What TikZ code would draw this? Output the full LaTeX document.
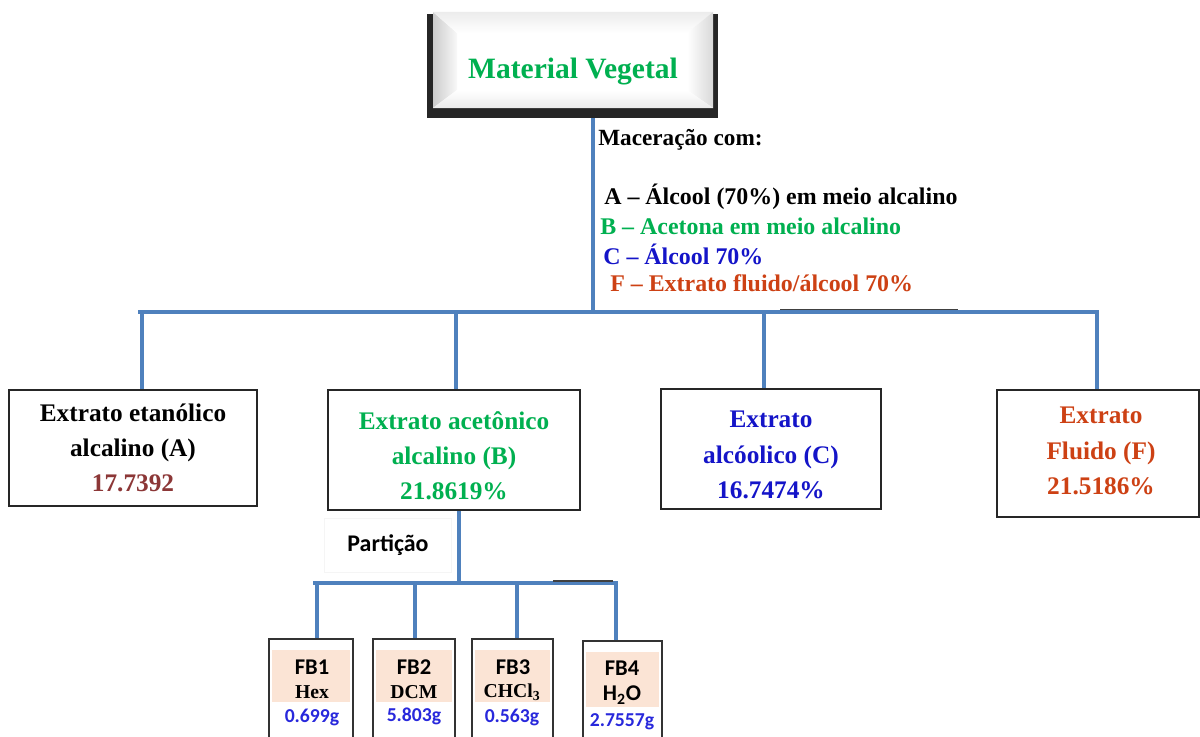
\documentclass[tikz,border=0pt]{standalone}
\usepackage{fontspec}
\setmainfont{Liberation Serif}
\newfontfamily\calfont{Carlito}
\usetikzlibrary{positioning}

\definecolor{linkblue}{RGB}{79,129,189}
\definecolor{vgreen}{RGB}{0,176,80}
\definecolor{cblue}{RGB}{20,20,200}
\definecolor{forange}{RGB}{205,65,20}
\definecolor{adark}{RGB}{140,55,55}
\definecolor{peach}{RGB}{251,228,213}
\definecolor{fbblue}{RGB}{40,40,220}

\tikzset{
  conn/.style={linkblue, line width=3pt},
  extbox/.style={draw=black!85, line width=1.3pt, fill=white, inner sep=0pt},
  exttext/.style={align=center, inner sep=0pt, font=\bfseries\fontsize{18}{25}\selectfont},
  fbbox/.style={draw=black!80, line width=1.3pt, fill=white, anchor=north, inner sep=0pt, minimum height=2.75cm},
  fbhead/.style={font=\calfont\bfseries\fontsize{16}{18}\selectfont},
  fbsolv/.style={font=\bfseries\fontsize{14}{16}\selectfont},
  fbmass/.style={text=fbblue, font=\calfont\bfseries\fontsize{14}{16}\selectfont},
  macline/.style={anchor=west, inner sep=0pt, font=\bfseries\fontsize{17}{20}\selectfont},
}

\begin{document}
\begin{tikzpicture}[x=0.025cm, y=-0.025cm]
	\useasboundingbox (0,0) rectangle (1200,736);
	\clip (0,0) rectangle (1200,736);
	% bevelled top box
	\node[fill=black!85, minimum width=7.275cm, minimum height=2.6cm, inner sep=0pt] (matbox) at (572.5,66) {};
	\fill[white] (433,12) rectangle (713,108);
	\shade[left color=gray!40, right color=gray!5] (433,12) -- (457,33) -- (457,90) -- (433,108) -- cycle;
	\shade[top color=gray!15, bottom color=white] (433,12) -- (713,12) -- (687,33) -- (457,33) -- cycle;
	\shade[left color=white, right color=gray!30] (713,12) -- (713,108) -- (687,90) -- (687,33) -- cycle;
	\shade[top color=white, bottom color=gray!15] (433,108) -- (457,90) -- (687,90) -- (713,108) -- cycle;
	\node[text=vgreen, font=\bfseries\fontsize{21}{24}\selectfont] (mat) at (573,72) {Material Vegetal};

	\node[macline, font=\bfseries\fontsize{16.5}{20}\selectfont] (mac) at (598,140) {Maceração com:};
	\node[macline] (macA) at (604,197) {A – Álcool (70\%) em meio alcalino};
	\node[macline, text=vgreen] (macB) at (600,226) {B – Acetona em meio alcalino};
	\node[macline, text=cblue] (macC) at (603,254) {C – Álcool 70\%};
	\node[macline, text=forange] (macF) at (610,283) {F – Extrato fluido/álcool 70\%};

	% extracts
	\node[extbox, minimum width=6.2cm, minimum height=2.9cm] (extA) at (133,448) {};
	\node[extbox, minimum width=6.3cm, minimum height=3cm] (extB) at (454,450) {};
	\node[extbox, minimum width=5.5cm, minimum height=3cm] (extC) at (771,449) {};
	\node[extbox, minimum width=5.05cm, minimum height=3.175cm] (extF) at (1098,453.5) {};
	\node[exttext] (extAt) at (133,448) {Extrato etanólico\\alcalino (A)\\{\color{adark}17.7392}};
	\node[exttext, text=vgreen] (extBt) at (454,456) {Extrato acetônico\\alcalino (B)\\21.8619\%};
	\node[exttext, text=cblue] (extCt) at (771,455) {Extrato\\alcóolico (C)\\16.7474\%};
	\node[exttext, text=forange] (extFt) at (1101,451) {Extrato\\Fluido (F)\\21.5186\%};

	\coordinate (hub) at (593,312);
	\coordinate (barL) at (138,312);
	\coordinate (barR) at (1099,312);
	\coordinate (tA) at (142,312);
	\coordinate (tB) at (456,312);
	\coordinate (tC) at (764,312);
	\coordinate (tF) at (1097,312);
	\draw[conn] (matbox.south -| hub) -- (hub);
	\draw[conn] (barL) -- (barR);
	\draw[black!75, line width=0.8pt] (780,309.5) -- (958,309.5);
	\draw[conn] (tA) -- (tA |- extA.north);
	\draw[conn] (tB) -- (tB |- extB.north);
	\draw[conn] (tC) -- (tC |- extC.north);
	\draw[conn] (tF) -- (tF |- extF.north);

	% partition
	\node[draw=gray!8, line width=0.6pt, minimum width=3.175cm, minimum height=1.35cm,
		font=\calfont\bfseries\fontsize{17}{18}\selectfont] (part) at (388,545) {Partição};

	\node[fbbox, minimum width=2.1cm] (fb1) at (311,638) {};
	\node[fbbox, minimum width=2.05cm] (fb2) at (414,638) {};
	\node[fbbox, minimum width=2.025cm] (fb3) at (512.5,638) {};
	\node[fbbox, minimum width=1.975cm] (fb4) at (622.5,640) {};
	\fill[peach] (272,650) rectangle (350,702);
	\fill[peach] (376,650) rectangle (452,702);
	\fill[peach] (475,650) rectangle (550,702);
	\fill[peach] (586,652) rectangle (659,707);

	\node[fbhead] (fb1h) at (312,667) {FB1};
	\node[fbsolv] (fb1s) at (312,692) {Hex};
	\node[fbmass] (fb1m) at (312,717) {0.699g};
	\node[fbhead] (fb2h) at (414,667) {FB2};
	\node[fbsolv] (fb2s) at (414,692) {DCM};
	\node[fbmass] (fb2m) at (414,716) {5.803g};
	\node[fbhead] (fb3h) at (513,667) {FB3};
	\node[fbsolv] (fb3s) at (512,692) {CHCl\textsubscript{3}};
	\node[fbmass] (fb3m) at (512,717) {0.563g};
	\node[fbhead] (fb4h) at (622,668) {FB4};
	\node[fbhead] (fb4s) at (622,695) {H\textsubscript{2}O};
	\node[fbmass] (fb4m) at (622,722) {2.7557g};

	\coordinate (pj) at (459,583);
	\coordinate (fbL) at (313,583);
	\coordinate (fbR) at (618,583);
	\coordinate (t1) at (317,583);
	\coordinate (t2) at (415,583);
	\coordinate (t3) at (517,583);
	\coordinate (t4) at (616,583);
	\draw[conn] (extB.south -| pj) -- (pj);
	\draw[conn] (fbL) -- (fbR);
	\draw[black!75, line width=0.8pt] (553,581) -- (613,581);
	\draw[conn] (t1) -- (t1 |- fb1.north);
	\draw[conn] (t2) -- (t2 |- fb2.north);
	\draw[conn] (t3) -- (t3 |- fb3.north);
	\draw[conn] (t4) -- (t4 |- fb4.north);
\end{tikzpicture}
\end{document}
